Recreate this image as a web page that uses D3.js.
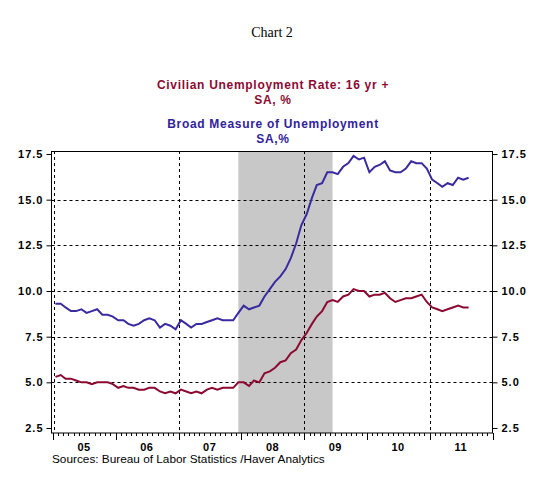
<!DOCTYPE html>
<html>
<head>
<meta charset="utf-8">
<script src="https://cdn.jsdelivr.net/npm/d3@7"></script>
<style>
  body{margin:0;background:#fff}
  text{font-family:"Liberation Sans",Arial,sans-serif}
</style>
</head>
<body>
<script>
// monthly, Jan 2005 - Aug 2011
var startMonth=new Date(2005,0,15)
var civilianRate=[
  5.3,5.4,5.2,5.2,5.1,5.0,5.0,4.9,5.0,5.0,5.0,4.9,
  4.7,4.8,4.7,4.7,4.6,4.6,4.7,4.7,4.5,4.4,4.5,4.4,
  4.6,4.5,4.4,4.5,4.4,4.6,4.7,4.6,4.7,4.7,4.7,5.0,
  5.0,4.8,5.1,5.0,5.5,5.6,5.8,6.1,6.2,6.6,6.8,7.3,
  7.7,8.2,8.6,8.9,9.4,9.5,9.4,9.7,9.8,10.1,10.0,10.0,
  9.7,9.8,9.8,9.9,9.6,9.4,9.5,9.6,9.6,9.7,9.8,9.4,
  9.1,9.0,8.9,9.0,9.1,9.2,9.1,9.1]
var broadMeasure=[
  9.3,9.3,9.1,8.9,8.9,9.0,8.8,8.9,9.0,8.7,8.7,8.6,
  8.4,8.4,8.2,8.1,8.2,8.4,8.5,8.4,8.0,8.2,8.1,7.9,
  8.4,8.2,8.0,8.2,8.2,8.3,8.4,8.5,8.4,8.4,8.4,8.8,
  9.2,9.0,9.1,9.2,9.7,10.1,10.5,10.8,11.2,11.8,12.6,13.6,
  14.2,15.1,15.8,15.9,16.5,16.5,16.4,16.8,17.0,17.4,17.2,17.3,
  16.5,16.8,16.9,17.1,16.6,16.5,16.5,16.7,17.1,17.0,17.0,16.7,
  16.1,15.9,15.7,15.9,15.8,16.2,16.1,16.2]
var yTicks=[2.5,5.0,7.5,10.0,12.5,15.0,17.5]
var gridVals=[5.0,7.5,10.0,12.5,15.0]
var yearLabels=["05","06","07","08","09","10","11"]
var recession=[new Date(2007,11,15),new Date(2009,5,15)]

var W=543,H=480
var frame={left:51.5,right:492.5,top:151,bottom:433}

var svg=d3.select("body").append("svg").attr("width",W).attr("height",H)

var x=d3.scaleTime().domain([new Date(2005,0,1),new Date(2012,0,1)]).range([53,492.5])
var y=d3.scaleLinear().domain([2.5,17.5]).range([428,154])

var monthDate=function(i){return d3.timeMonth.offset(startMonth,i)}

// titles
svg.append("text").attr("x",272).attr("y",37).attr("text-anchor","middle")
   .style("font-family","'Liberation Serif','Times New Roman',serif").style("font-size","14px")
   .text("Chart 2")
var titles=[
  {t:"Civilian Unemployment Rate: 16 yr +",y:89,c:"#8c0a32"},
  {t:"SA, %",y:104,c:"#8c0a32"},
  {t:"Broad Measure of Unemployment",y:128,c:"#30229c"},
  {t:"SA,%",y:143,c:"#30229c"}]
svg.selectAll(".ttl").data(titles).enter().append("text")
   .attr("class","ttl").attr("x",273).attr("y",function(d){return d.y})
   .attr("text-anchor","middle").attr("fill",function(d){return d.c})
   .style("font-size","12px").style("font-weight","bold").style("letter-spacing","0.7px")
   .text(function(d){return d.t})

// recession shading
svg.append("rect")
   .attr("x",x(recession[0])).attr("y",frame.top+1)
   .attr("width",x(recession[1])-x(recession[0])).attr("height",frame.bottom-frame.top-1)
   .attr("fill","#c8c8c8")

// grid
svg.selectAll(".hgrid").data(gridVals).enter().append("line")
   .attr("x1",frame.left).attr("x2",frame.right)
   .attr("y1",function(d){return Math.round(y(d))+0.5}).attr("y2",function(d){return Math.round(y(d))+0.5})
   .attr("stroke","#000").attr("stroke-dasharray","3,3")
var vgrid=[2005,2007,2009,2011].map(function(yr){return new Date(yr,0,1)})
svg.selectAll(".vgrid").data(vgrid).enter().append("line")
   .attr("x1",function(d,i){return Math.round(x(d))+(i==0?1:0)+0.5})
   .attr("x2",function(d,i){return Math.round(x(d))+(i==0?1:0)+0.5})
   .attr("y1",frame.top).attr("y2",frame.bottom)
   .attr("stroke","#000").attr("stroke-dasharray","3,3")

// lines
var line=d3.line().x(function(d,i){return x(monthDate(i))}).y(function(d){return y(d)})
svg.append("path").datum(broadMeasure).attr("d",line)
   .attr("fill","none").attr("stroke","#3a2aa0").attr("stroke-width",2)
svg.append("path").datum(civilianRate).attr("d",line)
   .attr("fill","none").attr("stroke","#8c0a32").attr("stroke-width",2)

// frame
svg.append("rect").attr("x",frame.left).attr("y",frame.top+0.5)
   .attr("width",frame.right-frame.left).attr("height",frame.bottom-frame.top-0.5)
   .attr("fill","none").attr("stroke","#000").attr("stroke-width",1)

// y axes
var yl=svg.append("g").attr("transform","translate("+frame.left+",0)")
   .call(d3.axisLeft(y).tickValues(yTicks).tickFormat(d3.format(".1f")).tickSize(5).tickPadding(3))
var yr=svg.append("g").attr("transform","translate("+frame.right+",0)")
   .call(d3.axisRight(y).tickValues(yTicks).tickFormat(d3.format(".1f")).tickSize(5).tickPadding(4))
svg.selectAll(".domain").remove()
;[yl,yr].forEach(function(g){
  g.selectAll("text").style("font-family","'Liberation Sans',Arial,sans-serif")
   .style("font-size","11px").style("font-weight","bold").style("letter-spacing","1px").attr("fill","#000")
})

// x axis: monthly minor ticks, yearly major
var months=d3.timeMonth.range(new Date(2005,0,1),new Date(2012,0,2))
svg.selectAll(".mtick").data(months).enter().append("line")
   .attr("x1",function(d){return Math.round(x(d))+0.5}).attr("x2",function(d){return Math.round(x(d))+0.5})
   .attr("y1",frame.bottom).attr("y2",function(d){return d.getMonth()==0?frame.bottom+7:frame.bottom+3})
   .attr("stroke","#000")
svg.selectAll(".xlab").data(yearLabels).enter().append("text")
   .attr("x",function(d,i){return x(new Date(2005+i,6,1))}).attr("y",451)
   .attr("text-anchor","middle").style("font-size","11px").style("font-weight","bold").style("letter-spacing","0.5px")
   .text(function(d){return d})

svg.append("text").attr("x",52).attr("y",463)
   .style("font-size","11.8px").attr("fill","#000")
   .text("Sources:  Bureau of Labor Statistics /Haver Analytics")
</script>
</body>
</html>
